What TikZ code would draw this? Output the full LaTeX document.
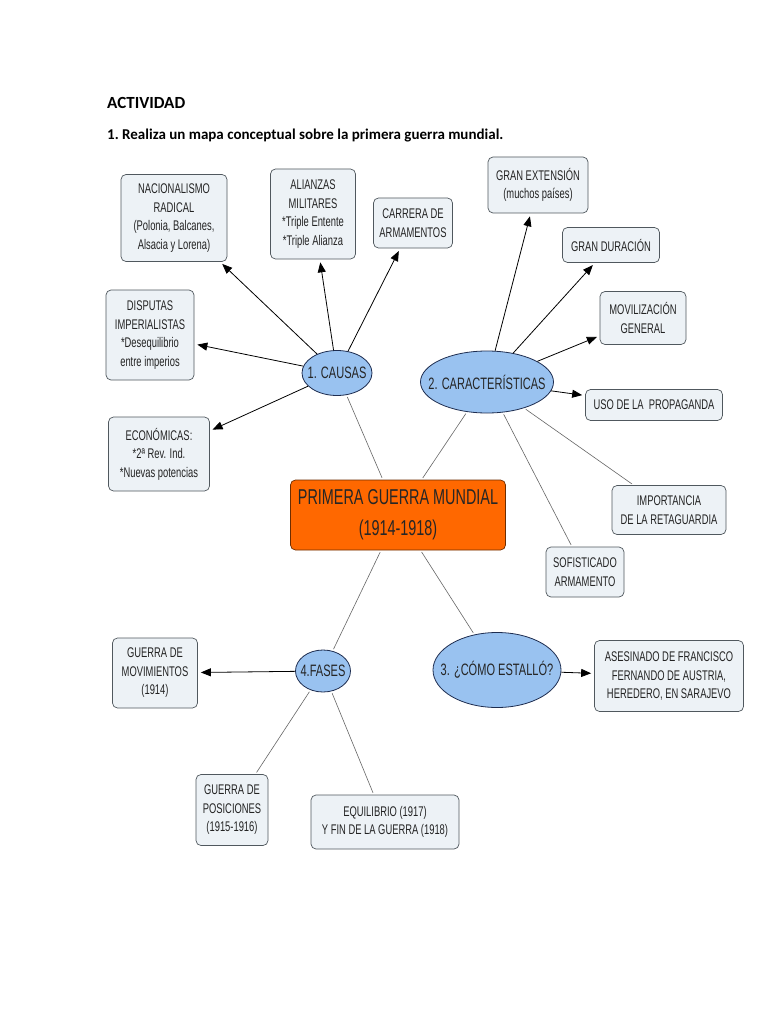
\documentclass[tikz,border=0pt]{standalone}
\usepackage{fontspec}
\setmainfont{Carlito}
\newfontfamily\mapfont{Liberation Sans}[FakeStretch=0.67]
\usetikzlibrary{arrows.meta,shapes.geometric}
\definecolor{boxfill}{RGB}{237,242,246}
\definecolor{boxline}{RGB}{80,88,94}
\definecolor{topicfill}{RGB}{153,194,240}
\definecolor{topicline}{RGB}{30,45,80}
\definecolor{rootfill}{RGB}{255,104,0}
\definecolor{rootline}{RGB}{110,45,0}
\definecolor{mapink}{RGB}{35,35,35}
\tikzset{
  box/.style={draw=boxline,fill=boxfill,rounded corners=5pt,align=center,text=mapink,
    font=\mapfont\fontsize{14}{18.5}\selectfont,inner sep=0pt,line width=0.7pt},
  topic/.style={ellipse,draw=topicline,fill=topicfill,inner sep=0pt,text=black!85,
    font=\mapfont\fontsize{16.5}{18}\selectfont,line width=0.8pt},
  root/.style={draw=rootline,fill=rootfill,rounded corners=5pt,align=center,text=black!85,
    font=\mapfont\fontsize{21.5}{31}\selectfont,inner sep=0pt,line width=0.7pt},
  link/.style={draw=black!60,line width=0.6pt,shorten <=2pt,shorten >=2pt},
  arrowlink/.style={->,draw=black,line width=0.8pt,shorten >=3pt}
}

\begin{document}
\begin{tikzpicture}[x=1pt,y=-1pt,>={Triangle[length=10pt,width=8pt]}]
  \useasboundingbox[fill=white] (0,0) rectangle (768,1024);

  \node[anchor=base west,inner sep=0pt,font=\bfseries\fontsize{17}{20}\selectfont] (act) at (107,109) {ACTIVIDAD};
  \node[anchor=base west,inner sep=0pt,font=\bfseries\fontsize{15}{18}\selectfont] (task) at (107,140)
    {1.\ Realiza un mapa conceptual sobre la primera guerra mundial.};

  \node[root,minimum width=215,minimum height=70] (pgm) at (398,515) {PRIMERA GUERRA MUNDIAL\\(1914-1918)};

  \node[topic,minimum width=70,minimum height=45] (causas) at (337,373) {\makebox[0pt]{1. CAUSAS}};
  \node[topic,minimum width=133,minimum height=62] (carac) at (487,382) {\makebox[0pt]{2. CARACTERÍSTICAS}};
  \node[topic,minimum width=128,minimum height=75] (como) at (497,670) {\makebox[0pt]{3. ¿CÓMO ESTALLÓ?}};
  \node[topic,minimum width=55,minimum height=42] (fases) at (323,671) {\makebox[0pt]{4.FASES}};

  \node[box,minimum width=106,minimum height=87] (nac) at (174,218) {NACIONALISMO\\RADICAL\\(Polonia, Balcanes,\\Alsacia y Lorena)};
  \node[box,minimum width=85,minimum height=90] (ali) at (313,214) {ALIANZAS\\MILITARES\\*Triple Entente\\*Triple Alianza};
  \node[box,minimum width=79,minimum height=50] (carr) at (413,223) {CARRERA DE\\ARMAMENTOS};
  \node[box,minimum width=88,minimum height=90] (disp) at (150,335) {DISPUTAS\\IMPERIALISTAS\\*Desequilibrio\\entre imperios};
  \node[box,minimum width=101,minimum height=74] (econ) at (159,454) {ECONÓMICAS:\\*2ª Rev. Ind.\\*Nuevas potencias};

  \node[box,minimum width=100,minimum height=56] (ext) at (538,185) {GRAN EXTENSIÓN\\(muchos países)};
  \node[box,minimum width=97,minimum height=35] (dur) at (611,245) {GRAN DURACIÓN};
  \node[box,minimum width=86,minimum height=53] (movil) at (643,318) {MOVILIZACIÓN\\GENERAL};
  \node[box,minimum width=137,minimum height=31] (prop) at (654,405) {USO DE LA\ \ PROPAGANDA};
  \node[box,minimum width=114,minimum height=49] (ret) at (669,510) {IMPORTANCIA\\DE LA RETAGUARDIA};
  \node[box,minimum width=78,minimum height=50] (sof) at (585,572) {SOFISTICADO\\ARMAMENTO};

  \node[box,minimum width=149,minimum height=71] (ases) at (669,676) {ASESINADO DE FRANCISCO\\FERNANDO DE AUSTRIA,\\HEREDERO, EN SARAJEVO};

  \node[box,minimum width=85,minimum height=70] (mov) at (155,673) {GUERRA DE\\MOVIMIENTOS\\(1914)};
  \node[box,minimum width=72,minimum height=71] (pos) at (232,810) {GUERRA DE\\POSICIONES\\(1915-1916)};
  \node[box,minimum width=148,minimum height=54] (equi) at (385,822) {EQUILIBRIO (1917)\\Y FIN DE LA GUERRA (1918)};

  \draw[link] (causas) -- (pgm);
  \draw[link] (carac) -- (pgm);
  \draw[link] (pgm) -- (como);
  \draw[link] (pgm) -- (fases);

  \draw[arrowlink] (causas) -- (nac);
  \draw[arrowlink] (causas) -- (ali);
  \draw[arrowlink] (causas) -- (carr);
  \draw[arrowlink] (causas) -- (disp);
  \draw[arrowlink] (causas) -- (econ);

  \draw[arrowlink] (carac) -- (ext);
  \draw[arrowlink] (carac) -- (dur);
  \draw[arrowlink] (carac) -- (movil);
  \draw[arrowlink] (carac) -- (prop);
  \draw[link] (carac) -- (ret);
  \draw[link] (carac) -- (sof);

  \draw[arrowlink] (como) -- (ases);

  \draw[arrowlink] (fases) -- (mov);
  \draw[link] (fases) -- (pos);
  \draw[link] (fases) -- (equi);
\end{tikzpicture}
\end{document}
